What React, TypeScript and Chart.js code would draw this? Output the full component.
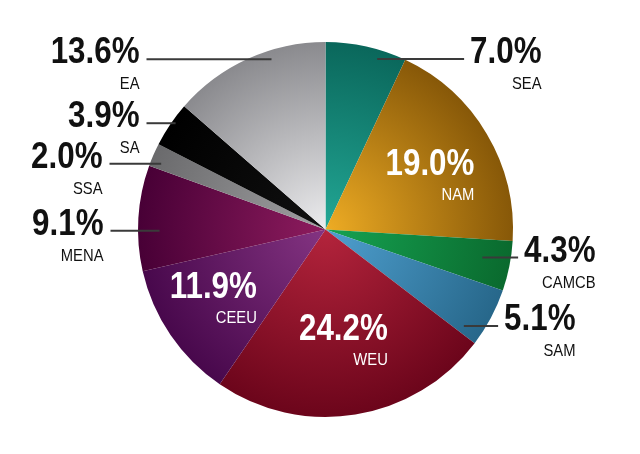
import React, { useEffect, useRef } from "react";
import { Chart, registerables } from "chart.js";

Chart.register(...registerables);

const regions = ["SEA", "NAM", "CAMCB", "SAM", "WEU", "CEEU", "MENA", "SSA", "SA", "EA"];
const shares = [7.0, 19.0, 4.3, 5.1, 24.2, 11.9, 9.1, 2.0, 3.9, 13.6];

const centerColors = ["#22a795", "#eeac24", "#16a352", "#4fa0d0", "#b4243c", "#843482", "#8e1c5e", "#a0a0a2", "#111111", "#ececee"];
const edgeColors = ["#0a675b", "#875808", "#0a6a2e", "#27678a", "#6c051b", "#48084c", "#480036", "#6a6a6c", "#000000", "#8a8a8e"];

// label layout: af = fraction along slice angle, rf = fraction of radius, dx = text right edge offset from center
const labelLayout = [
  { inside: false, af: 0.67, rf: 0.95, dx: 216 },
  { inside: true, af: 0.653, rf: 0.846 },
  { inside: false, af: 0.43, rf: 0.85, dx: 270 },
  { inside: false, af: 0.87, rf: 0.9, dx: 250 },
  { inside: true, af: 0.267, rf: 0.676 },
  { inside: true, af: 0.248, rf: 0.518 },
  { inside: false, af: 0.38, rf: 0.885, dx: -222 },
  { inside: false, af: 0.27, rf: 0.944, dx: -223 },
  { inside: false, af: 0.59, rf: 0.98, dx: -186 },
  { inside: false, af: 0.64, rf: 0.952, dx: -186 },
];

const FONT = '"Liberation Sans", Arial, sans-serif';
const PCT_FONT = `bold 36px ${FONT}`;
const NAME_FONT = `17px ${FONT}`;
const SX = 0.87;

function drawRight(ctx: CanvasRenderingContext2D, text: string, x: number, y: number, font: string) {
  ctx.save();
  ctx.font = font;
  ctx.textAlign = "right";
  ctx.textBaseline = "alphabetic";
  ctx.translate(x, y);
  ctx.scale(SX, 1);
  ctx.fillText(text, 0, 0);
  ctx.restore();
}

const labelPlugin = {
  id: "sliceLabels",
  afterDatasetsDraw(chart: any) {
    const ctx = chart.ctx as CanvasRenderingContext2D;
    const meta = chart.getDatasetMeta(0);
    meta.data.forEach((arc: any, i: number) => {
      const p = arc.getProps(["x", "y", "startAngle", "endAngle", "outerRadius"], true);
      const L = labelLayout[i];
      const a = p.startAngle + (p.endAngle - p.startAngle) * L.af;
      const px = p.x + Math.cos(a) * p.outerRadius * L.rf;
      const py = p.y + Math.sin(a) * p.outerRadius * L.rf;
      const pct = shares[i].toFixed(1) + "%";
      ctx.save();
      if (L.inside) {
        ctx.fillStyle = "#ffffff";
        drawRight(ctx, pct, px, py, PCT_FONT);
        drawRight(ctx, regions[i], px, py + 25, NAME_FONT);
      } else {
        const right = p.x + (L.dx as number);
        ctx.font = PCT_FONT;
        const w = ctx.measureText(pct).width * SX;
        ctx.strokeStyle = "#3a3a3a";
        ctx.lineWidth = 2;
        ctx.beginPath();
        if (right > px) {
          ctx.moveTo(px, py);
          ctx.lineTo(right - w - 6, py);
        } else {
          ctx.moveTo(right + 7, py);
          ctx.lineTo(px, py);
        }
        ctx.stroke();
        ctx.fillStyle = "#111111";
        drawRight(ctx, pct, right, py + 4, PCT_FONT);
        drawRight(ctx, regions[i], right, py + 30, NAME_FONT);
      }
      ctx.restore();
    });
  },
};

export default function App() {
  const ref = useRef<HTMLCanvasElement | null>(null);
  useEffect(() => {
    document.body.style.margin = "0";
    const canvas = ref.current!;
    const chart = new Chart(canvas, {
      type: "pie",
      data: {
        labels: regions,
        datasets: [
          {
            data: shares,
            borderWidth: 0,
            backgroundColor: (c: any) => {
              const ch = c.chart;
              const area = ch.chartArea;
              const i = c.dataIndex;
              if (!area || i === undefined) return centerColors[i ?? 0];
              const cx = (area.left + area.right) / 2;
              const cy = (area.top + area.bottom) / 2;
              const r = Math.min(area.right - area.left, area.bottom - area.top) / 2;
              const g = ch.ctx.createRadialGradient(cx, cy, 0, cx, cy, r);
              g.addColorStop(0, centerColors[i]);
              g.addColorStop(1, edgeColors[i]);
              return g;
            },
          },
        ],
      },
      options: {
        responsive: false,
        animation: false,
        layout: { padding: { left: 138, right: 127, top: 42, bottom: 37 } },
        plugins: { legend: { display: false }, tooltip: { enabled: false } },
      },
      plugins: [labelPlugin],
    });
    return () => chart.destroy();
  }, []);
  return (
    <div style={{ position: "fixed", left: 0, top: 0, width: 640, height: 454, background: "#fff" }}>
      <canvas ref={ref} width={640} height={454} />
    </div>
  );
}
